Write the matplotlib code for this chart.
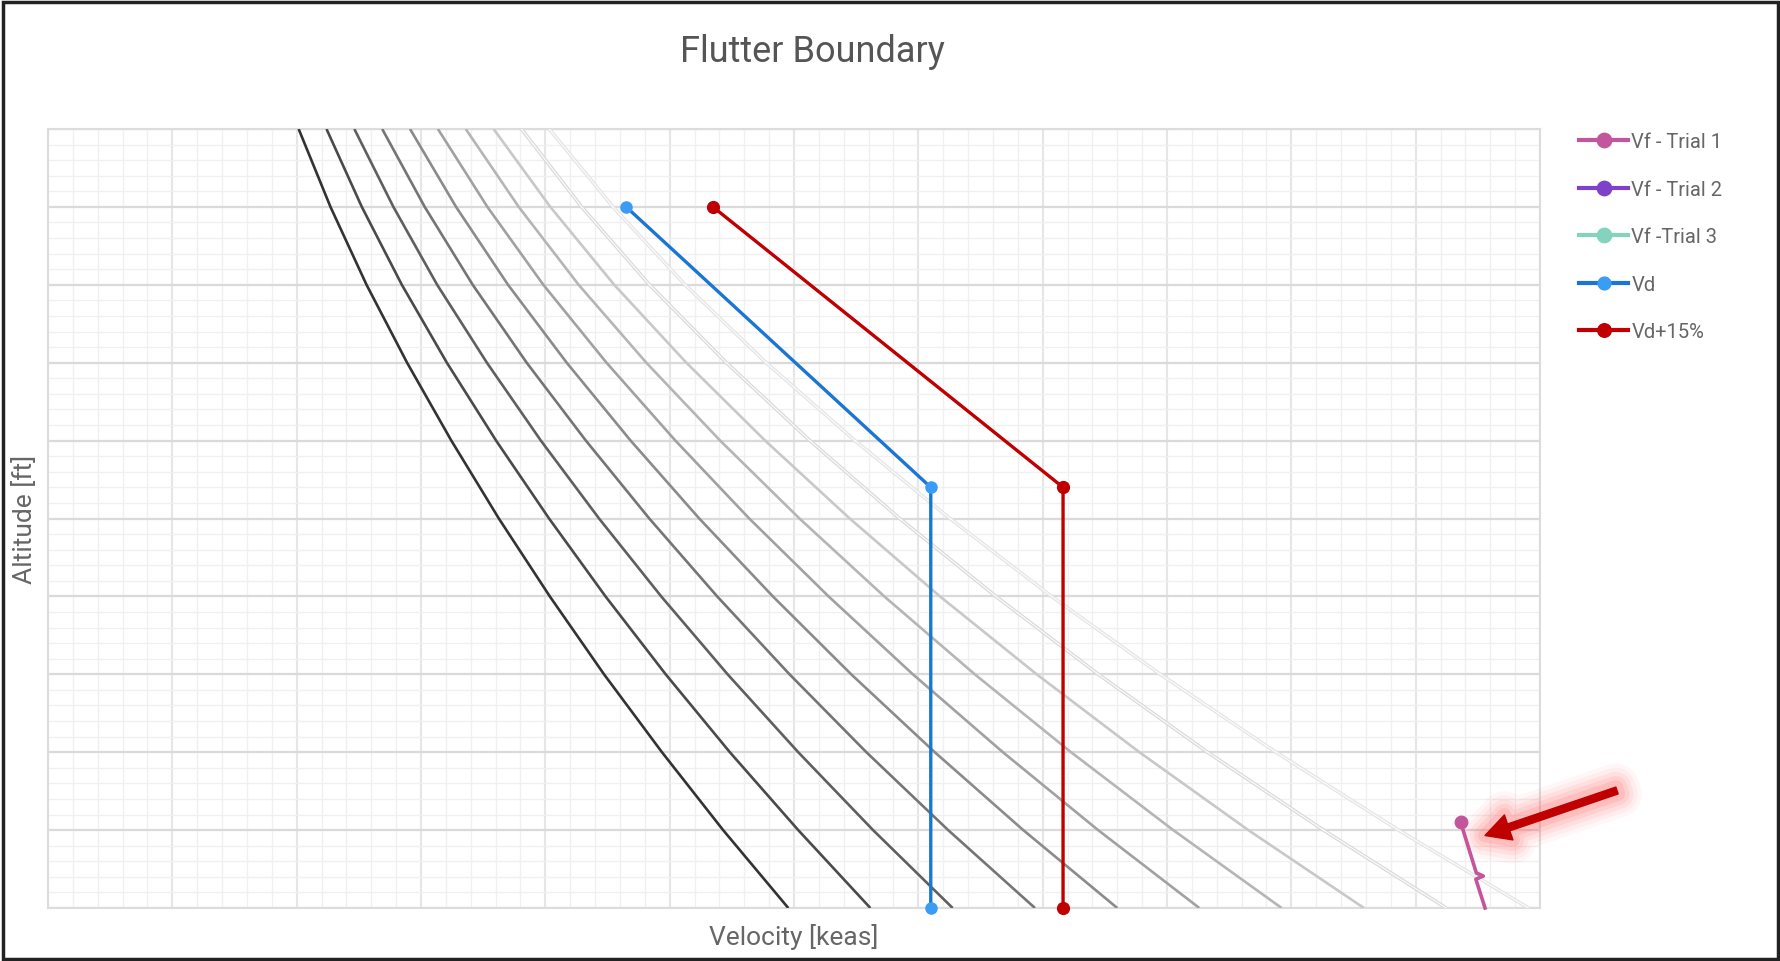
import matplotlib
matplotlib.use("Agg")
import matplotlib.pyplot as plt
import matplotlib.patheffects as pe
from matplotlib.patches import Rectangle
from matplotlib.ticker import MultipleLocator

plt.rcParams['font.family'] = ['Roboto', 'DejaVu Sans']

# altitude levels [ft] at which the Mach curves were read
altitudes = [0, 5000, 10000, 15000, 20000, 25000, 30000, 35000, 40000, 45000, 50000]

# constant Mach curves, velocity [keas] at each altitude level
mach_045 = [297.7, 271.5, 246.9, 223.6, 201.8, 181.3, 162.2, 144.4, 128.1, 113.6, 100.8]
mach_050 = [330.7, 301.7, 274.2, 248.4, 224.2, 201.5, 180.2, 160.4, 142.3, 126.2, 112.0]
mach_055 = [363.8, 331.8, 301.7, 273.3, 246.6, 221.6, 198.2, 176.5, 156.5, 138.9, 123.2]
mach_060 = [396.9, 362.0, 329.1, 298.2, 269.1, 241.8, 216.3, 192.5, 170.8, 151.5, 134.4]
mach_065 = [430.0, 392.2, 356.6, 323.0, 291.5, 261.9, 234.3, 208.6, 185.0, 164.1, 145.6]
mach_070 = [463.0, 422.3, 384.0, 347.8, 313.9, 282.0, 252.3, 224.6, 199.2, 176.7, 156.8]
mach_075 = [496.1, 452.5, 411.4, 372.7, 336.3, 302.2, 270.3, 240.6, 213.4, 189.3, 168.0]
mach_080 = [529.2, 482.7, 438.9, 397.6, 358.7, 322.4, 288.4, 256.7, 227.7, 202.0, 179.2]
mach_085 = [562.3, 512.9, 466.3, 422.4, 381.2, 342.5, 306.4, 272.8, 241.9, 214.6, 190.4]
mach_090 = [595.4, 543.1, 493.8, 447.3, 403.6, 362.7, 324.5, 288.8, 256.2, 227.2, 201.6]
mach_curves = [mach_045, mach_050, mach_055, mach_060, mach_065,
               mach_070, mach_075, mach_080, mach_085, mach_090]
curve_grays = ['#333333', '#4a4a4a', '#5f5f5f', '#757575', '#8b8b8b',
               '#a1a1a1', '#b5b5b5', '#c8c8c8', '#d9d9d9', '#e4e4e4']

# design dive speed and +15 % margin
vd_speed = [232.5, 355.0, 355.0]
vd_alt = [45000, 27000, 0]
vd15_speed = [267.4, 408.2, 408.2]
vd15_alt = [45000, 27000, 0]

# flutter trials
vf1_speed = [568.1, 574.4, 577.2, 574.2, 577.9]
vf1_alt = [5500, 2250, 2050, 1850, 0]
vf2_speed = []
vf2_alt = []
vf3_speed = []
vf3_alt = []

fig = plt.figure(figsize=(17.81, 9.62), dpi=100)
ax = fig.add_axes([48 / 1781, 1 - 909 / 962, 1492 / 1781, 779 / 962])

for vals, col in zip(mach_curves, curve_grays):
    ln, = ax.plot(vals, altitudes, color=col, lw=1.9, zorder=3, solid_capstyle='butt')
    if col in ('#d9d9d9', '#e4e4e4'):
        ln.set_path_effects([pe.Stroke(linewidth=2.6, foreground=col),
                             pe.Stroke(linewidth=0.9, foreground='#fbfbfb')])

ax.plot(vf1_speed, vf1_alt, color='#c2559b', lw=2.6, marker='o', ms=9,
        markevery=[0], zorder=5, clip_on=False, solid_joinstyle='round',
        label='Vf - Trial 1')
ax.plot(vf2_speed, vf2_alt, color='#7e41c9', lw=2.6, marker='o', ms=9,
        label='Vf - Trial 2')
ax.plot(vf3_speed, vf3_alt, color='#84d3bd', lw=2.6, marker='o', ms=9,
        label='Vf -Trial 3')
ax.plot(vd_speed, vd_alt, color='#1a76d2', lw=2.4, marker='o', ms=8,
        mfc='#3a9cf5', mec='#3a9cf5', zorder=5, clip_on=False, label='Vd')
ax.plot(vd15_speed, vd15_alt, color='#c00000', lw=2.4, marker='o', ms=8.5,
        zorder=5, clip_on=False, label='Vd+15%')

ax.set_xlim(0, 600)
ax.set_ylim(0, 50000)
ax.xaxis.set_major_locator(MultipleLocator(50))
ax.xaxis.set_minor_locator(MultipleLocator(10))
ax.yaxis.set_major_locator(MultipleLocator(5000))
ax.yaxis.set_minor_locator(MultipleLocator(1000))
ax.tick_params(which='both', length=0, labelbottom=False, labelleft=False)
ax.set_axisbelow(True)
ax.xaxis.grid(True, which='major', color='#e6e6e6', lw=1.5)
ax.yaxis.grid(True, which='major', color='#dadada', lw=1.6)
ax.grid(True, which='minor', color='#f0f0f0', lw=1.0)
for s in ax.spines.values():
    s.set_color('#dcdcdc')
    s.set_linewidth(1.5)

ax.set_xlabel('Velocity [keas]', fontsize=19, color='#666666')
ax.xaxis.set_label_coords(0.5, -0.019)
ax.set_ylabel('Altitude [ft]', fontsize=19, color='#666666')
ax.yaxis.set_label_coords(-0.0075, 0.5)
fig.text(812 / 1781, 1 - 52 / 962, 'Flutter Boundary', fontsize=26,
         color='#555555', ha='center', va='center')

leg = ax.legend(loc='upper left', bbox_to_anchor=(1579 / 1781, 1 - 133 / 962),
                bbox_transform=fig.transFigure, frameon=False, fontsize=14.5,
                handlelength=2.45, handletextpad=0.15, labelspacing=1.42,
                borderpad=0, borderaxespad=0, numpoints=1, markerscale=1.15)
for t in leg.get_texts():
    t.set_color('#666666')
for h in leg.get_lines():
    h.set_linewidth(3.0)

# highlight arrow pointing at the trial 1 point
glow = [pe.Stroke(linewidth=w, foreground='#ff6666', alpha=a)
        for w, a in [(34, 0.05), (28, 0.07), (22, 0.09), (16, 0.12), (10, 0.16)]]
ax.annotate('', xy=(1485, 962 - 836.5), xytext=(1617, 962 - 791.5),
            xycoords='figure pixels', textcoords='figure pixels',
            arrowprops=dict(arrowstyle='simple,head_length=0.9,head_width=0.95,tail_width=0.26',
                            color='#c00000', mutation_scale=20, shrinkA=0, shrinkB=0,
                            path_effects=glow + [pe.Normal()]),
            annotation_clip=False, zorder=6)

fig.patches.append(Rectangle((0.0015, 0.002), 0.997, 0.995, transform=fig.transFigure,
                             fill=False, edgecolor='#222222', lw=2.5))

fig.savefig('out.png', dpi=100, facecolor='white')
